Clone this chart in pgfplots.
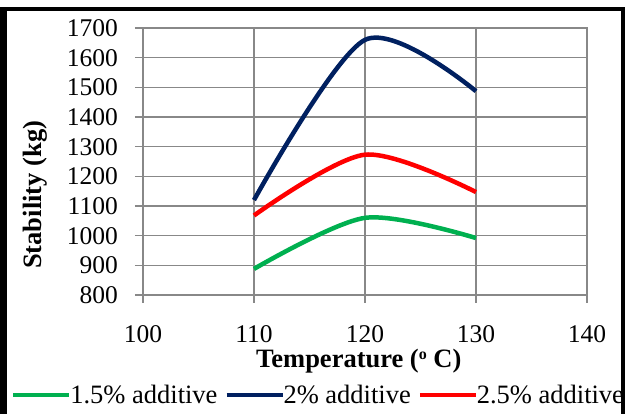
\documentclass[border=0pt]{standalone}
\usepackage{fontspec}
\setmainfont{Liberation Serif}
\usepackage{pgfplots}
\pgfplotsset{compat=1.18}
\definecolor{cgreen}{HTML}{00B050}
\definecolor{cnavy}{HTML}{002060}
\definecolor{cred}{HTML}{FF0000}
\definecolor{cgrid}{HTML}{888888}
\begin{document}
\begin{tikzpicture}
\useasboundingbox (0,0) rectangle (627pt,414pt);
\begin{axis}[
  at={(143pt,119pt)}, anchor=south west,
  scale only axis, width=444pt, height=267pt,
  xmin=100, xmax=140, ymin=800, ymax=1700,
  xtick={100,110,...,140}, ytick={800,900,...,1700},
  grid=major, major grid style={cgrid, line width=1.3pt},
  axis line style={cgrid, line width=1.3pt},
  tick style={cgrid, line width=1.3pt},
  major tick length=8pt, tick align=outside, tick pos=left,
  /pgf/number format/assume math mode=true,
  /pgf/number format/1000 sep={},
  every tick label/.append style={font=\fontsize{25.5}{30}\selectfont, text=black},
  yticklabel style={inner sep=0pt, xshift=-17pt},
  xticklabel style={inner sep=0pt, yshift=-22pt},
  xlabel={Temperature (\raisebox{7.5pt}{\fontsize{16}{16}\selectfont o} C)},
  xlabel style={font=\fontsize{26.5}{30}\selectfont\bfseries, at={(axis description cs:0.486,-0.27)}, anchor=base},
  ylabel={Stability (kg)},
  ylabel style={font=\fontsize{26.5}{30}\selectfont\bfseries, at={(axis description cs:-0.243,0.375)}, anchor=center},
  legend columns=3,
  legend style={at={(axis description cs:-0.297,-0.3745)}, anchor=west, draw=none, fill=none, inner sep=0pt,
    font=\fontsize{26.5}{30}\selectfont,
    nodes={inner sep=0pt},
    /tikz/every odd column/.append style={column sep=-1pt},
    /tikz/every even column/.append style={column sep=7pt}},
  legend image code/.code={\draw[#1, line width=4pt] (0pt,0pt) -- (56pt,0pt);},
]
\addplot[cgreen, line width=4.5pt, smooth] coordinates {(110,888) (120,1060) (130,992)};
\addlegendentry{1.5\% additive}
\addplot[cnavy, line width=4.5pt, smooth] coordinates {(110,1120) (120,1660) (130,1487)};
\addlegendentry{2\% additive}
\addplot[cred, line width=4.5pt, smooth] coordinates {(110,1068) (120,1273) (130,1147)};
\addlegendentry{2.5\% additive}
\end{axis}
\draw[line width=7pt] (3.5pt,0pt) -- (3.5pt,404.5pt);
\draw[line width=4pt] (0pt,404.5pt) -- (623pt,404.5pt) -- (623pt,0pt);
\end{tikzpicture}
\end{document}
